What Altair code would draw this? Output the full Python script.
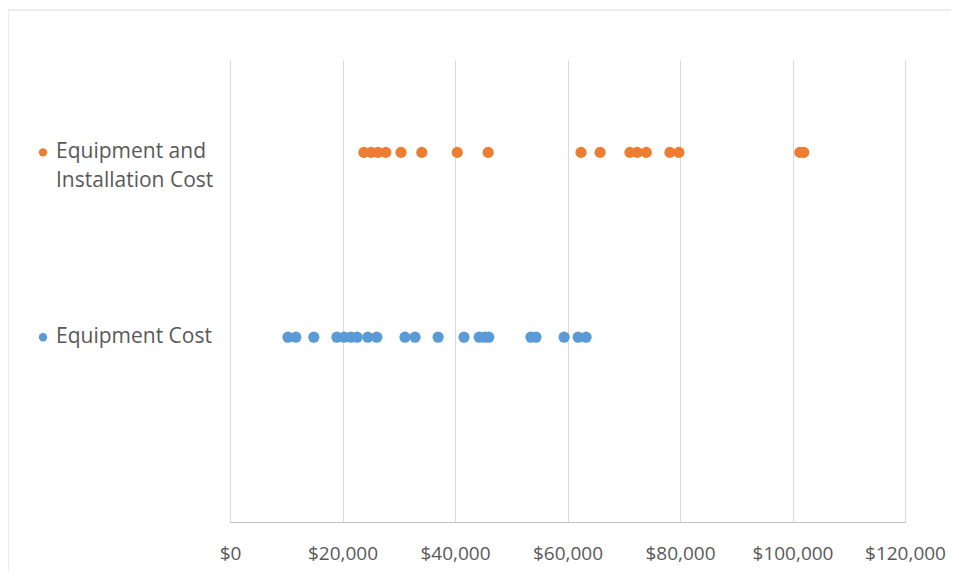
import altair as alt
import pandas as pd

series_names = ["Equipment and Installation Cost", "Equipment Cost"]
series_pos = [2, 1]
series_colors = ["#ED7D31", "#5B9BD5"]

install_costs = [23800, 25100, 26300, 27700, 30400, 34100, 40400, 45900, 62400,
                 65800, 71100, 72400, 74000, 78200, 79800, 101300, 102000]
equip_costs = [10300, 11700, 14900, 19000, 20300, 21500, 22600, 24500, 26100,
               31100, 32900, 37000, 41600, 44300, 45300, 46000, 53500, 54400,
               59400, 61900, 63300]

x_ticks = [0, 20000, 40000, 60000, 80000, 100000, 120000]

rows = []
for v in install_costs:
    rows.append({"cost": v, "pos": series_pos[0], "series": series_names[0]})
for v in equip_costs:
    rows.append({"cost": v, "pos": series_pos[1], "series": series_names[1]})
df = pd.DataFrame(rows)

label_first = pd.DataFrame({"pos": series_pos, "series": series_names,
                            "line1": ["Equipment and", "Equipment Cost"]})
label_second = pd.DataFrame({"pos": [series_pos[0]], "series": [series_names[0]],
                             "line2": ["Installation Cost"]})

FONT = "Open Sans"
TXT = "#595959"
color_scale = alt.Scale(domain=series_names, range=series_colors)
y_scale = alt.Scale(domain=[0, 2.5])

border = alt.Chart(pd.DataFrame({"a": [0]})).mark_rect(
    fill="transparent", stroke="#d9d9d9", strokeWidth=1
).encode(x=alt.value(-222), x2=alt.value(760), y=alt.value(-50), y2=alt.value(620))

points = alt.Chart(df).mark_circle(size=125, opacity=1).encode(
    x=alt.X("cost:Q", scale=alt.Scale(domain=[0, 120000], nice=False),
            axis=alt.Axis(values=x_ticks, format="$,.0f", title=None, grid=True,
                          gridColor="#d9d9d9", domainColor="#bfbfbf", ticks=False,
                          labelColor=TXT, labelFont=FONT, labelFontSize=19,
                          labelPadding=22, labelOverlap=False, labelFlush=False)),
    y=alt.Y("pos:Q", scale=y_scale, axis=None),
    color=alt.Color("series:N", scale=color_scale, legend=None),
)

leg_dots = alt.Chart(label_first).mark_circle(size=70, opacity=1).encode(
    x=alt.value(-187),
    y=alt.Y("pos:Q", scale=y_scale),
    color=alt.Color("series:N", scale=color_scale, legend=None),
)
leg_text1 = alt.Chart(label_first).mark_text(
    align="left", baseline="middle", font=FONT, fontSize=21, color=TXT
).encode(x=alt.value(-174), y=alt.Y("pos:Q", scale=y_scale), text="line1:N")
leg_text2 = alt.Chart(label_second).mark_text(
    align="left", baseline="middle", font=FONT, fontSize=21, color=TXT, dy=29
).encode(x=alt.value(-174), y=alt.Y("pos:Q", scale=y_scale), text="line2:N")

chart = alt.layer(border, points, leg_dots, leg_text1, leg_text2).properties(
    width=675, height=462,
    autosize=alt.AutoSizeParams(type="none"),
    padding={"left": 222, "top": 52, "right": 46, "bottom": 50},
).configure_view(stroke=None)

chart.save("out.html", embed_options={"renderer": "svg", "actions": False})
